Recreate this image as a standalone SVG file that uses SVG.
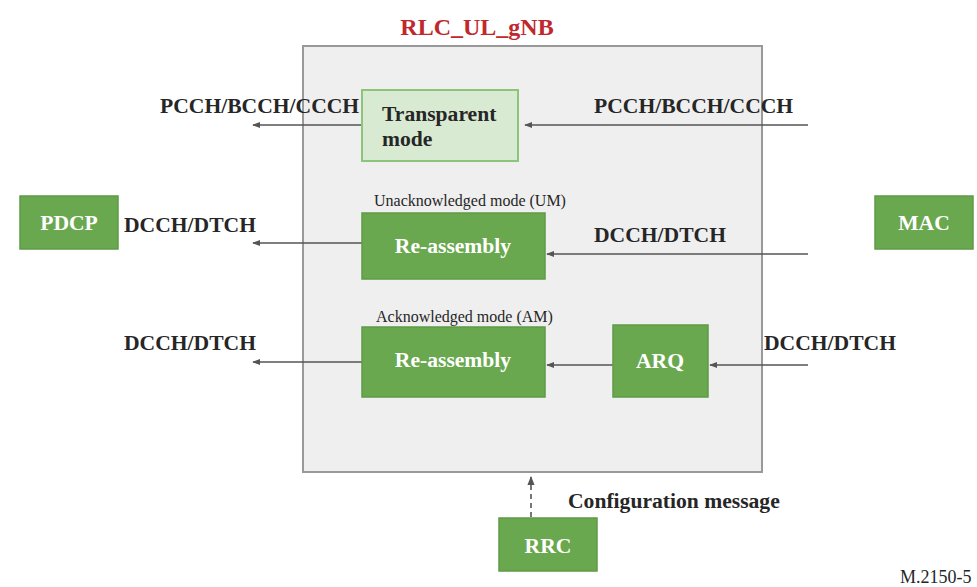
<svg xmlns="http://www.w3.org/2000/svg" width="977" height="587" viewBox="0 0 977 587">
<style>
.lbl{font-family:"Liberation Serif","Times New Roman",serif;font-weight:bold;font-size:21.6px;fill:#262626}
.wt{font-family:"Liberation Serif","Times New Roman",serif;font-weight:bold;font-size:21.6px;fill:#ffffff}
.sm{font-family:"Liberation Serif","Times New Roman",serif;font-size:16px;fill:#262626}
.g{fill:#6aa84f;stroke:#5e9b46;stroke-width:1.5}
.ln{stroke:#555;stroke-width:1.6;fill:none}
</style>
<defs>
<marker id="ah" viewBox="0 0 10 10" refX="9" refY="5" markerWidth="8" markerHeight="8" markerUnits="userSpaceOnUse" orient="auto">
<path d="M0,1 L10,5 L0,9 Z" fill="#555"/>
</marker>
<marker id="ah2" viewBox="0 0 10 10" refX="9" refY="5" markerWidth="9" markerHeight="9" markerUnits="userSpaceOnUse" orient="auto">
<path d="M0,1 L10,5 L0,9 Z" fill="#555"/>
</marker>
</defs>
<rect width="977" height="587" fill="#ffffff"/>
<g id="rlc">
<rect x="303" y="46" width="459" height="426" fill="#efefef" stroke="#999" stroke-width="2"/>
<text x="477" y="35" text-anchor="middle" style="font-family:'Liberation Serif','Times New Roman',serif;font-weight:bold;font-size:24px;fill:#c0282d">RLC_UL_gNB</text>
<text class="sm" x="374" y="206">Unacknowledged mode (UM)</text>
<text class="sm" x="376" y="322">Acknowledged mode (AM)</text>
</g>
<g id="connectors">
<line class="ln" x1="362" y1="125" x2="253" y2="125" marker-end="url(#ah)"/>
<line class="ln" x1="808" y1="125" x2="525" y2="125" marker-end="url(#ah)"/>
<line class="ln" x1="362" y1="243" x2="253" y2="243" marker-end="url(#ah)"/>
<line class="ln" x1="808" y1="254" x2="547" y2="254" marker-end="url(#ah)"/>
<line class="ln" x1="362" y1="362" x2="253" y2="362" marker-end="url(#ah)"/>
<line class="ln" x1="613" y1="365" x2="547" y2="365" marker-end="url(#ah)"/>
<line class="ln" x1="808" y1="365" x2="710" y2="365" marker-end="url(#ah)"/>
<line class="ln" x1="531" y1="517" x2="531" y2="477" stroke-dasharray="5,4" marker-end="url(#ah2)"/>
<text class="lbl" x="160" y="113">PCCH/BCCH/CCCH</text>
<text class="lbl" x="594" y="113">PCCH/BCCH/CCCH</text>
<text class="lbl" x="124" y="232">DCCH/DTCH</text>
<text class="lbl" x="594" y="242">DCCH/DTCH</text>
<text class="lbl" x="124" y="350">DCCH/DTCH</text>
<text class="lbl" x="764" y="350">DCCH/DTCH</text>
<text class="lbl" x="568" y="508">Configuration message</text>
</g>
<g id="tm">
<rect x="362" y="90" width="156" height="71" fill="#d9ead3" stroke="#8cc47a" stroke-width="2"/>
<text class="lbl" x="382" y="121">Transparent</text>
<text class="lbl" x="382" y="146">mode</text>
</g>
<g id="um-reassembly">
<rect class="g" x="362" y="213" width="183" height="66"/>
<text class="wt" x="453" y="253" text-anchor="middle">Re-assembly</text>
</g>
<g id="am-reassembly">
<rect class="g" x="362" y="327" width="183" height="70"/>
<text class="wt" x="453" y="367" text-anchor="middle">Re-assembly</text>
</g>
<g id="arq">
<rect class="g" x="613" y="325" width="95" height="72"/>
<text class="wt" x="660" y="368" text-anchor="middle">ARQ</text>
</g>
<g id="pdcp">
<rect class="g" x="20" y="196" width="98" height="53"/>
<text class="wt" x="69" y="230" text-anchor="middle">PDCP</text>
</g>
<g id="mac">
<rect class="g" x="875" y="196" width="98" height="53"/>
<text class="wt" x="924" y="230" text-anchor="middle">MAC</text>
</g>
<g id="rrc">
<rect class="g" x="499" y="518" width="98" height="53"/>
<text class="wt" x="548" y="553" text-anchor="middle">RRC</text>
</g>
<text class="sm" x="900" y="583" style="font-size:18px">M.2150-5</text>
</svg>
